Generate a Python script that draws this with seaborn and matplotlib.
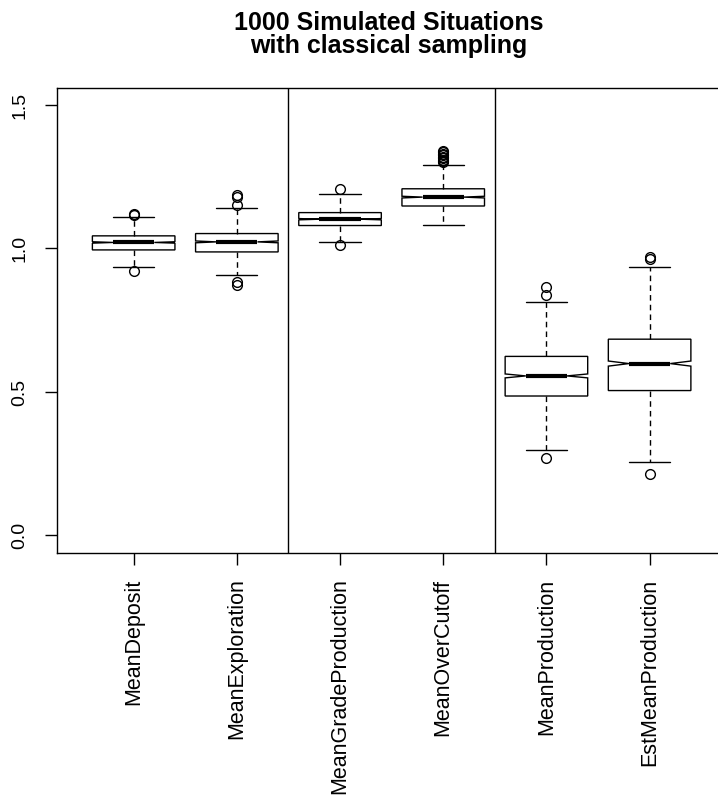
import matplotlib
matplotlib.use("Agg")
import matplotlib.pyplot as plt
import numpy as np
import pandas as pd
import seaborn as sns

# ---- data ----
categories = ["MeanDeposit", "MeanExploration", "MeanGradeProduction",
              "MeanOverCutoff", "MeanProduction", "EstMeanProduction"]
n_sim = 1000
q1 = [0.995, 0.988, 1.080, 1.148, 0.486, 0.505]
median = [1.021, 1.023, 1.102, 1.179, 0.556, 0.599]
q3 = [1.044, 1.052, 1.125, 1.208, 0.624, 0.684]
whisker_lo = [0.936, 0.907, 1.023, 1.081, 0.297, 0.256]
whisker_hi = [1.109, 1.142, 1.191, 1.292, 0.8125, 0.936]
outliers_lo = [[0.920], [0.884, 0.874], [1.011], [], [0.271], [0.216]]
outliers_hi = [[1.118, 1.121], [1.150, 1.180, 1.185], [1.208],
               [1.300, 1.305, 1.310, 1.315, 1.320, 1.325, 1.330, 1.335, 1.341],
               [0.838, 0.865], [0.962, 0.971]]
yticks = [0.0, 0.5, 1.0, 1.5]
ytick_labels = ["0.0", "0.5", "1.0", "1.5"]
group_dividers = [1.5, 3.5]
title_lines = ["1000 Simulated Situations", "with classical sampling"]

# build a sample of n_sim values per variable reproducing the read summary
n_mid = n_sim // 4
n_side = (n_sim - n_mid - 2) // 2
rows = []
for i, cat in enumerate(categories):
    lo, hi = outliers_lo[i], outliers_hi[i]
    vals = (lo + [whisker_lo[i]] + [q1[i]] * (n_side - len(lo))
            + [median[i]] * n_mid + [q3[i]] * (n_side - len(hi))
            + [whisker_hi[i]] + hi)
    rows += [(cat, v) for v in vals]
df = pd.DataFrame(rows, columns=["variable", "value"])

sns.set_theme(style="ticks")
plt.rcParams["font.family"] = ["Liberation Sans", "DejaVu Sans"]

fig = plt.figure(figsize=(7.18, 7.97), dpi=100)
ax = fig.add_axes([0.0798, 0.3065, 0.9313, 0.5834])

sns.boxplot(data=df, x="variable", y="value", order=categories,
            color="white", saturation=1, linecolor="black", linewidth=1.0,
            width=0.8, whis=1.5, fliersize=7, shownotches=True,
            medianprops=dict(linewidth=3, color="black"),
            whiskerprops=dict(linestyle=(0, (4, 3)), color="black"),
            capprops=dict(color="black"),
            flierprops=dict(marker="o", markerfacecolor="none",
                            markeredgecolor="black", markeredgewidth=1.0),
            ax=ax)

for xv in group_dividers:
    ax.axvline(xv, color="black", linewidth=1.0)

ax.set_xlim(-0.74, len(categories) - 1 + 0.74)
ax.set_ylim(-0.06, 1.56)
ax.set_yticks(yticks)
ax.set_yticklabels(ytick_labels, fontsize=14, rotation=90, va="center")
ax.set_xticks(range(len(categories)))
ax.set_xticklabels(categories, fontsize=15.5, rotation=90)
ax.set_xlabel("")
ax.set_ylabel("")
ax.tick_params(axis="y", length=8.6, width=1.0, pad=12, colors="black")
ax.tick_params(axis="x", length=8.6, width=1.0, pad=10, colors="black")
for sp in ax.spines.values():
    sp.set_visible(True)
    sp.set_color("black")
    sp.set_linewidth(1.0)

fig.text(389 / 718, 1 - 30 / 797, title_lines[0], ha="center", va="baseline",
         fontsize=18, fontweight="bold", color="black")
fig.text(389 / 718, 1 - 53.3 / 797, title_lines[1], ha="center", va="baseline",
         fontsize=18, fontweight="bold", color="black")

fig.savefig("out.png", dpi=100)
